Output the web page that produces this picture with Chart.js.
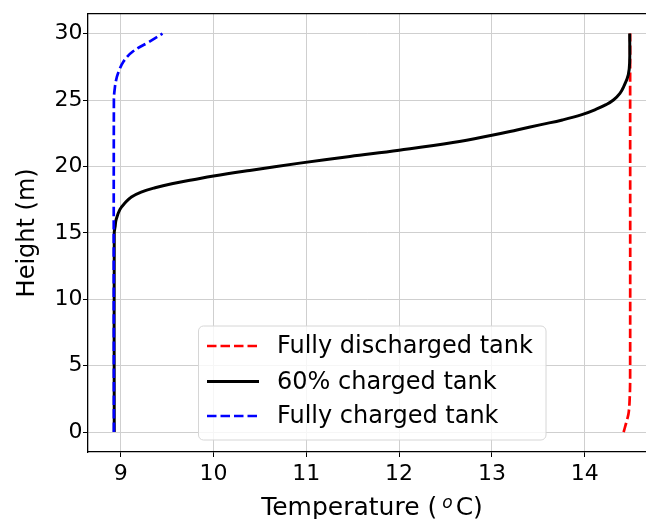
<!DOCTYPE html>
<html>
<head>
<meta charset="utf-8">
<script src="https://cdn.jsdelivr.net/npm/chart.js@4.4.0/dist/chart.umd.min.js"></script>
<style>
    body { margin: 0; background: #fff; }
    #wrap { width: 646px; height: 519px; }
</style>
</head>
<body>
<div id="wrap"><canvas id="profileChart" width="646" height="519"></canvas></div>
<script>
// series (temperature in degC vs height in m)
const seriesLabels = ['Fully discharged tank', '60% charged tank', 'Fully charged tank'];
const seriesColors = ['#ff0000', '#000000', '#0000ff'];

const dischargedHeight = [0, 0.5, 1, 1.5, 2.5, 4, 30];
const dischargedTemp = [14.42, 14.44, 14.46, 14.475, 14.485, 14.49, 14.49];

const partialHeight = [0, 15, 15.5, 16, 16.75, 17.25, 17.7, 18.07, 18.4, 18.7, 19.0, 19.28, 19.7, 20.25, 20.75, 21.22, 21.8, 22.35, 22.75, 23.15, 23.5, 23.9, 24.3, 24.65, 25.0, 25.5, 26, 26.9, 27.9, 30];
const partialTemp = [8.93, 8.93, 8.94, 8.95, 8.99, 9.045, 9.115, 9.22, 9.37, 9.55, 9.78, 10.0, 10.39, 10.93, 11.47, 12.0, 12.58, 13.0, 13.27, 13.53, 13.76, 13.97, 14.12, 14.23, 14.31, 14.38, 14.42, 14.47, 14.485, 14.485];

const chargedHeight = [0, 25, 25.9, 26.5, 27.0, 27.9, 28.65, 29.4, 30.0];
const chargedTemp = [8.926, 8.926, 8.936, 8.95, 8.97, 9.03, 9.13, 9.31, 9.45];

const xTicks = [9, 10, 11, 12, 13, 14];
const yTicks = [0, 5, 10, 15, 20, 25, 30];

const FONT = 'DejaVu Sans';
const DASH = [9.5, 4];

function toPoints(temps, heights) {
    return temps.map((t, i) => ({ x: t, y: heights[i] }));
}

function lineSet(idx, temps, heights, dashed, width, order) {
    return {
        label: seriesLabels[idx],
        data: toPoints(temps, heights),
        showLine: true,
        borderColor: seriesColors[idx],
        backgroundColor: seriesColors[idx],
        borderWidth: width,
        borderDash: dashed ? DASH : [],
        pointRadius: 0,
        tension: 0.4,
        fill: false,
        order: order
    };
}

// top spine, legend box and x-axis title (with superscript)
const extrasPlugin = {
    id: 'extras',
    afterDraw(chart) {
        const ctx = chart.ctx;
        const area = chart.chartArea;
        ctx.save();

        ctx.strokeStyle = '#000';
        ctx.lineWidth = 1.3;
        ctx.beginPath();
        ctx.moveTo(area.left, area.top);
        ctx.lineTo(area.right, area.top);
        ctx.stroke();

        // legend
        const box = { x: 198.5, y: 326, w: 347.5, h: 114 };
        ctx.beginPath();
        ctx.roundRect(box.x, box.y, box.w, box.h, 5);
        ctx.fillStyle = 'rgba(255,255,255,0.8)';
        ctx.fill();
        ctx.strokeStyle = '#d6d6d6';
        ctx.lineWidth = 1;
        ctx.stroke();

        const rows = [346, 381.5, 416];
        ctx.font = '24px "' + FONT + '"';
        ctx.textBaseline = 'middle';
        ctx.textAlign = 'left';
        chart.data.datasets.forEach((ds, i) => {
            ctx.beginPath();
            ctx.setLineDash(ds.borderDash);
            ctx.strokeStyle = ds.borderColor;
            ctx.lineWidth = ds.borderWidth;
            ctx.moveTo(207, rows[i]);
            ctx.lineTo(259, rows[i]);
            ctx.stroke();
            ctx.setLineDash([]);
            ctx.fillStyle = '#000';
            ctx.fillText(ds.label, 277, rows[i] + 1);
        });

        // x title: Temperature (^oC)
        const part1 = 'Temperature (';
        const sup = 'o';
        const part2 = 'C)';
        ctx.textBaseline = 'alphabetic';
        ctx.font = '25px "' + FONT + '"';
        const w1 = ctx.measureText(part1).width;
        const w2 = ctx.measureText(part2).width;
        ctx.font = 'italic 17px "' + FONT + '"';
        const ws = ctx.measureText(sup).width + 8;
        const total = w1 + ws + w2;
        let x = 372 - total / 2;
        const base = 515;
        ctx.fillStyle = '#000';
        ctx.font = '25px "' + FONT + '"';
        ctx.fillText(part1, x, base);
        x += w1;
        ctx.font = 'italic 17px "' + FONT + '"';
        ctx.fillText(sup, x + 5, base - 7);
        x += ws;
        ctx.font = '25px "' + FONT + '"';
        ctx.fillText(part2, x, base);

        ctx.restore();
    }
};

const ctx = document.getElementById('profileChart').getContext('2d');
new Chart(ctx, {
    type: 'scatter',
    data: {
        datasets: [
            lineSet(0, dischargedTemp, dischargedHeight, true, 2.7, 3),
            lineSet(1, partialTemp, partialHeight, false, 3, 2),
            lineSet(2, chargedTemp, chargedHeight, true, 2.7, 1)
        ]
    },
    options: {
        responsive: false,
        animation: false,
        devicePixelRatio: 1,
        layout: { padding: { top: 12, right: 0, bottom: 0, left: 0 } },
        plugins: {
            legend: { display: false },
            tooltip: { enabled: false }
        },
        scales: {
            x: {
                type: 'linear',
                position: 'bottom',
                min: 8.647,
                max: 14.661,
                afterBuildTicks: scale => { scale.ticks = xTicks.map(v => ({ value: v })); },
                afterFit: scale => { scale.height = 67; },
                ticks: { color: '#000', font: { family: FONT, size: 22 }, padding: 4, maxRotation: 0 },
                grid: { color: '#cfcfcf', lineWidth: 1, tickColor: '#000', tickLength: 5 },
                border: { color: '#000', width: 1.3 }
            },
            y: {
                type: 'linear',
                min: -1.5,
                max: 31.5,
                afterBuildTicks: scale => { scale.ticks = yTicks.map(v => ({ value: v })); },
                afterFit: scale => { scale.width = 88; },
                ticks: { color: '#000', font: { family: FONT, size: 22 }, padding: 0.5 },
                grid: { color: '#cfcfcf', lineWidth: 1, tickColor: '#000', tickLength: 5 },
                border: { color: '#000', width: 1.3 },
                title: {
                    display: true,
                    text: 'Height (m)',
                    color: '#000',
                    font: { family: FONT, size: 24 },
                    padding: { top: 13.6, bottom: 0 }
                }
            }
        }
    },
    plugins: [extrasPlugin]
});
</script>
</body>
</html>
